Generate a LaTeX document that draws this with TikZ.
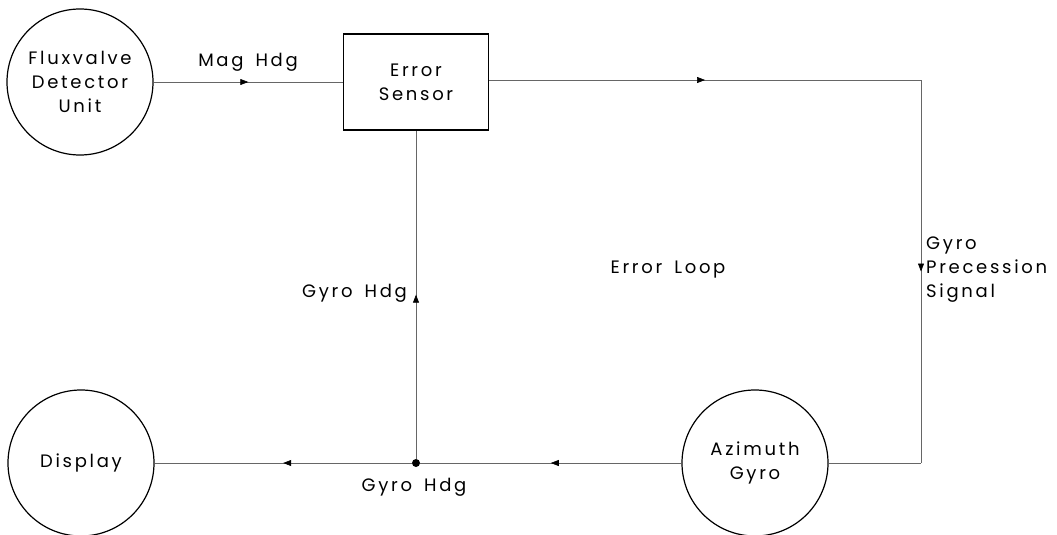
\documentclass[tikz,border=0pt]{standalone}
\usepackage{fontspec}
\setmainfont{Poppins}[LetterSpace=15,WordSpace=1.6]
\usetikzlibrary{arrows.meta,decorations.markings}
\newcommand\lblfont{\fontsize{18}{24}\selectfont}
\begin{document}
\begin{tikzpicture}[x=1pt,y=-1pt,
  unit/.style={circle,draw,line width=1.2pt,minimum size=146pt,inner sep=0pt,align=center,font=\lblfont},
  sensorbox/.style={draw,line width=1.1pt,minimum width=145pt,minimum height=96pt,inner sep=0pt,align=center,font=\lblfont},
  conn/.style={draw=black!60,line width=0.6pt},
  midarrow/.style={conn,postaction={decorate},decoration={markings,mark=at position 0.5 with {\arrow[black]{Triangle[length=8pt,width=6pt]}}}},
  lab/.style={font=\lblfont,align=left,inner sep=1pt},
  junction/.style={circle,fill=black,inner sep=0pt,minimum size=8pt}]
\useasboundingbox (0,0) rectangle (1057,535);
\node[unit] (flux) at (80,82) {Fluxvalve\\Detector\\Unit};
\node[sensorbox] (sensor) at (416,82) {Error\\Sensor};
\node[unit] (disp) at (81,463) {Display};
\node[unit] (azi) at (755,463) {Azimuth\\Gyro};
\coordinate (tr) at (921,80);
\coordinate (br) at (921,463);
\node[junction] (dot) at (416,463) {};
\draw[midarrow] (flux) -- (sensor);
\draw[midarrow] (sensor.east |- tr) -- (tr);
\draw[midarrow] (tr) -- (br);
\draw[conn] (br) -- (azi);
\draw[midarrow] (azi) -- (dot);
\draw[midarrow] (dot) -- (disp);
\draw[midarrow] (dot) -- (sensor.south);
\node[lab] (maghdg) at (248,62) {Mag Hdg};
\node[lab,anchor=east] (gh1) at (408,293) {Gyro Hdg};
\node[lab] (gh2) at (414,487) {Gyro Hdg};
\node[lab] (loop) at (668,270) {Error Loop};
\node[lab,anchor=west] (gps) at (925,270) {Gyro\\Precession\\Signal};
\end{tikzpicture}
\end{document}
